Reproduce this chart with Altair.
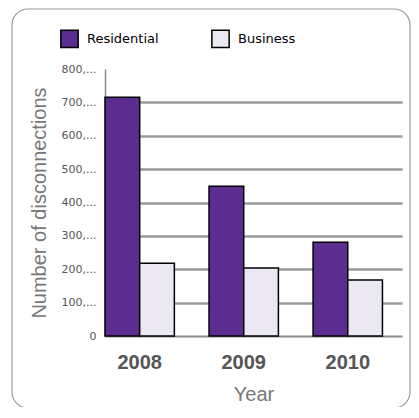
import altair as alt
import pandas as pd

years = ["2008", "2009", "2010"]
series = ["Residential", "Business"]
residential = [715000, 449000, 281000]
business = [218000, 204000, 168000]
colors = ["#5B2D90", "#EBE8F4"]
y_ticks = [0, 100000, 200000, 300000, 400000, 500000, 600000, 700000, 800000]

rows = []
for i, yr in enumerate(years):
    rows.append({"Year": yr, "Series": "Residential", "Value": residential[i]})
    rows.append({"Year": yr, "Series": "Business", "Value": business[i]})
df = pd.DataFrame(rows)

frame = alt.Chart(pd.DataFrame({"a": [0]})).mark_rect(
    fill="white", fillOpacity=0, stroke="#9a9a9a", strokeWidth=1.2, cornerRadius=16
).encode(
    x=alt.value(-93), x2=alt.value(305), y=alt.value(-60), y2=alt.value(339)
)

bars = alt.Chart(df).mark_bar(stroke="black", strokeWidth=1.5).encode(
    x=alt.X(
        "Year:N",
        sort=years,
        scale=alt.Scale(paddingInner=1 / 3, paddingOuter=0.094, align=0),
        axis=alt.Axis(
            title="Year", labelAngle=0, ticks=False, labelPadding=16,
            labelFont="Liberation Sans", labelFontSize=20, labelFontWeight="bold",
            labelColor="#555555", titleFont="Liberation Sans", titleFontSize=20,
            titleFontWeight="normal", titleColor="#777777", titlePadding=12,
            domainColor="#8a8a8a", domainWidth=2,
        ),
    ),
    xOffset=alt.XOffset("Series:N", sort=series, scale=alt.Scale(paddingInner=0, paddingOuter=0)),
    y=alt.Y(
        "Value:Q",
        scale=alt.Scale(domain=[0, 800000], nice=False),
        axis=alt.Axis(
            title="Number of disconnections", values=y_ticks, ticks=False,
            labelExpr="datum.value == 0 ? '0' : slice(format(datum.value, ','), 0, 4) + '...'",
            labelFont="DejaVu Sans", labelFontSize=11, labelColor="#555555", labelPadding=9,
            titleFont="Liberation Sans", titleFontSize=20, titleFontWeight="normal",
            titleColor="#777777", titlePadding=12,
            domainColor="#8a8a8a", domainWidth=1.5,
            gridColor="#9a9a9a", gridWidth=2.5,
            gridOpacity={"condition": {"test": "datum.value == 0 || datum.value == 800000", "value": 0}, "value": 1},
        ),
    ),
    color=alt.Color(
        "Series:N",
        sort=series,
        scale=alt.Scale(domain=series, range=colors),
        legend=alt.Legend(
            title=None, orient="none", legendX=-45, legendY=-40, direction="horizontal",
            symbolType="square", symbolSize=300, symbolStrokeColor="black", symbolStrokeWidth=1.5,
            symbolOpacity=1, labelFont="DejaVu Sans", labelFontSize=13, labelColor="black",
            labelOffset=8, columnPadding=49, padding=0,
        ),
    ),
)

chart = alt.layer(frame, bars).properties(
    width=297, height=267,
    autosize=alt.AutoSizeParams(type="none"),
    padding={"left": 97, "top": 61, "right": 9, "bottom": 71},
    background="white",
).configure_view(stroke=None)

chart.save("out.html", embed_options={"renderer": "svg", "actions": False})
